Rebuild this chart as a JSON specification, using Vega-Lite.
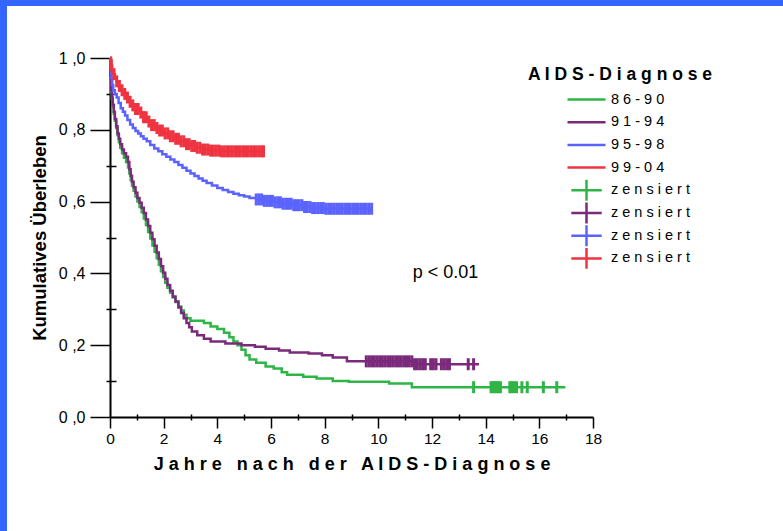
{
  "$schema": "https://vega.github.io/schema/vega-lite/v6.json",
  "background": "white",
  "padding": 0,
  "config": {"view": {"stroke": null}},
  "datasets": {
    "curves": [
      {"group":"86-90","t":0,"s":1.0},{"group":"86-90","t":0.02,"s":0.94},{"group":"86-90","t":0.04,"s":0.905},{"group":"86-90","t":0.07,"s":0.885},{"group":"86-90","t":0.1,"s":0.865},{"group":"86-90","t":0.14,"s":0.845},{"group":"86-90","t":0.18,"s":0.825},{"group":"86-90","t":0.23,"s":0.805},{"group":"86-90","t":0.28,"s":0.785},{"group":"86-90","t":0.33,"s":0.765},{"group":"86-90","t":0.38,"s":0.75},{"group":"86-90","t":0.45,"s":0.735},{"group":"86-90","t":0.52,"s":0.722},{"group":"86-90","t":0.6,"s":0.71},{"group":"86-90","t":0.67,"s":0.695},{"group":"86-90","t":0.72,"s":0.678},{"group":"86-90","t":0.77,"s":0.66},{"group":"86-90","t":0.82,"s":0.645},{"group":"86-90","t":0.88,"s":0.63},{"group":"86-90","t":0.95,"s":0.614},{"group":"86-90","t":1.02,"s":0.6},{"group":"86-90","t":1.1,"s":0.585},{"group":"86-90","t":1.18,"s":0.57},{"group":"86-90","t":1.26,"s":0.553},{"group":"86-90","t":1.34,"s":0.535},{"group":"86-90","t":1.42,"s":0.515},{"group":"86-90","t":1.5,"s":0.497},{"group":"86-90","t":1.58,"s":0.478},{"group":"86-90","t":1.66,"s":0.46},{"group":"86-90","t":1.74,"s":0.442},{"group":"86-90","t":1.82,"s":0.424},{"group":"86-90","t":1.9,"s":0.406},{"group":"86-90","t":1.98,"s":0.39},{"group":"86-90","t":2.06,"s":0.374},{"group":"86-90","t":2.14,"s":0.36},{"group":"86-90","t":2.24,"s":0.346},{"group":"86-90","t":2.34,"s":0.333},{"group":"86-90","t":2.44,"s":0.32},{"group":"86-90","t":2.55,"s":0.308},{"group":"86-90","t":2.65,"s":0.297},{"group":"86-90","t":2.75,"s":0.285},{"group":"86-90","t":2.85,"s":0.275},{"group":"86-90","t":3.0,"s":0.268},{"group":"86-90","t":3.5,"s":0.262},{"group":"86-90","t":3.75,"s":0.252},{"group":"86-90","t":4.0,"s":0.245},{"group":"86-90","t":4.25,"s":0.235},{"group":"86-90","t":4.45,"s":0.222},{"group":"86-90","t":4.6,"s":0.21},{"group":"86-90","t":4.75,"s":0.2},{"group":"86-90","t":4.9,"s":0.187},{"group":"86-90","t":5.05,"s":0.172},{"group":"86-90","t":5.2,"s":0.16},{"group":"86-90","t":5.45,"s":0.151},{"group":"86-90","t":5.8,"s":0.141},{"group":"86-90","t":6.1,"s":0.135},{"group":"86-90","t":6.4,"s":0.125},{"group":"86-90","t":6.6,"s":0.118},{"group":"86-90","t":7.2,"s":0.112},{"group":"86-90","t":7.7,"s":0.107},{"group":"86-90","t":8.3,"s":0.1},{"group":"86-90","t":8.9,"s":0.098},{"group":"86-90","t":10.4,"s":0.093},{"group":"86-90","t":11.25,"s":0.083},{"group":"86-90","t":16.97,"s":0.083},
      {"group":"91-94","t":0,"s":1.0},{"group":"91-94","t":0.02,"s":0.95},{"group":"91-94","t":0.04,"s":0.91},{"group":"91-94","t":0.07,"s":0.89},{"group":"91-94","t":0.1,"s":0.87},{"group":"91-94","t":0.14,"s":0.85},{"group":"91-94","t":0.18,"s":0.83},{"group":"91-94","t":0.23,"s":0.81},{"group":"91-94","t":0.28,"s":0.79},{"group":"91-94","t":0.33,"s":0.775},{"group":"91-94","t":0.38,"s":0.76},{"group":"91-94","t":0.45,"s":0.745},{"group":"91-94","t":0.52,"s":0.735},{"group":"91-94","t":0.6,"s":0.725},{"group":"91-94","t":0.67,"s":0.71},{"group":"91-94","t":0.72,"s":0.69},{"group":"91-94","t":0.77,"s":0.672},{"group":"91-94","t":0.82,"s":0.655},{"group":"91-94","t":0.88,"s":0.64},{"group":"91-94","t":0.95,"s":0.625},{"group":"91-94","t":1.02,"s":0.61},{"group":"91-94","t":1.1,"s":0.597},{"group":"91-94","t":1.18,"s":0.583},{"group":"91-94","t":1.26,"s":0.568},{"group":"91-94","t":1.34,"s":0.55},{"group":"91-94","t":1.42,"s":0.532},{"group":"91-94","t":1.5,"s":0.513},{"group":"91-94","t":1.58,"s":0.495},{"group":"91-94","t":1.66,"s":0.477},{"group":"91-94","t":1.74,"s":0.458},{"group":"91-94","t":1.82,"s":0.44},{"group":"91-94","t":1.9,"s":0.42},{"group":"91-94","t":1.98,"s":0.402},{"group":"91-94","t":2.06,"s":0.385},{"group":"91-94","t":2.14,"s":0.368},{"group":"91-94","t":2.24,"s":0.352},{"group":"91-94","t":2.34,"s":0.336},{"group":"91-94","t":2.44,"s":0.322},{"group":"91-94","t":2.55,"s":0.305},{"group":"91-94","t":2.65,"s":0.29},{"group":"91-94","t":2.75,"s":0.275},{"group":"91-94","t":2.85,"s":0.262},{"group":"91-94","t":2.95,"s":0.25},{"group":"91-94","t":3.05,"s":0.238},{"group":"91-94","t":3.25,"s":0.228},{"group":"91-94","t":3.5,"s":0.218},{"group":"91-94","t":3.75,"s":0.21},{"group":"91-94","t":4.3,"s":0.205},{"group":"91-94","t":4.9,"s":0.2},{"group":"91-94","t":5.4,"s":0.196},{"group":"91-94","t":5.8,"s":0.19},{"group":"91-94","t":6.3,"s":0.185},{"group":"91-94","t":6.7,"s":0.18},{"group":"91-94","t":7.4,"s":0.177},{"group":"91-94","t":7.9,"s":0.172},{"group":"91-94","t":8.3,"s":0.166},{"group":"91-94","t":8.83,"s":0.155},{"group":"91-94","t":11.3,"s":0.147},{"group":"91-94","t":13.75,"s":0.147},
      {"group":"95-98","t":0,"s":1.0},{"group":"95-98","t":0.02,"s":0.97},{"group":"95-98","t":0.05,"s":0.945},{"group":"95-98","t":0.08,"s":0.925},{"group":"95-98","t":0.12,"s":0.91},{"group":"95-98","t":0.18,"s":0.9},{"group":"95-98","t":0.25,"s":0.89},{"group":"95-98","t":0.32,"s":0.875},{"group":"95-98","t":0.4,"s":0.86},{"group":"95-98","t":0.48,"s":0.85},{"group":"95-98","t":0.56,"s":0.84},{"group":"95-98","t":0.65,"s":0.827},{"group":"95-98","t":0.75,"s":0.815},{"group":"95-98","t":0.85,"s":0.805},{"group":"95-98","t":0.95,"s":0.797},{"group":"95-98","t":1.05,"s":0.79},{"group":"95-98","t":1.15,"s":0.782},{"group":"95-98","t":1.25,"s":0.775},{"group":"95-98","t":1.37,"s":0.768},{"group":"95-98","t":1.5,"s":0.758},{"group":"95-98","t":1.65,"s":0.748},{"group":"95-98","t":1.8,"s":0.74},{"group":"95-98","t":1.95,"s":0.732},{"group":"95-98","t":2.1,"s":0.725},{"group":"95-98","t":2.25,"s":0.717},{"group":"95-98","t":2.4,"s":0.71},{"group":"95-98","t":2.55,"s":0.702},{"group":"95-98","t":2.7,"s":0.694},{"group":"95-98","t":2.85,"s":0.686},{"group":"95-98","t":3.0,"s":0.678},{"group":"95-98","t":3.15,"s":0.671},{"group":"95-98","t":3.3,"s":0.664},{"group":"95-98","t":3.45,"s":0.658},{"group":"95-98","t":3.6,"s":0.652},{"group":"95-98","t":3.8,"s":0.645},{"group":"95-98","t":4.0,"s":0.638},{"group":"95-98","t":4.2,"s":0.632},{"group":"95-98","t":4.4,"s":0.627},{"group":"95-98","t":4.6,"s":0.622},{"group":"95-98","t":4.8,"s":0.618},{"group":"95-98","t":5.0,"s":0.614},{"group":"95-98","t":5.2,"s":0.61},{"group":"95-98","t":5.45,"s":0.606},{"group":"95-98","t":5.75,"s":0.602},{"group":"95-98","t":6.1,"s":0.598},{"group":"95-98","t":6.4,"s":0.594},{"group":"95-98","t":6.8,"s":0.59},{"group":"95-98","t":7.2,"s":0.585},{"group":"95-98","t":7.5,"s":0.582},{"group":"95-98","t":8.0,"s":0.58},{"group":"95-98","t":9.8,"s":0.58},
      {"group":"99-04","t":0,"s":1.0},{"group":"99-04","t":0.04,"s":0.98},{"group":"99-04","t":0.08,"s":0.965},{"group":"99-04","t":0.12,"s":0.955},{"group":"99-04","t":0.18,"s":0.945},{"group":"99-04","t":0.25,"s":0.935},{"group":"99-04","t":0.33,"s":0.922},{"group":"99-04","t":0.42,"s":0.91},{"group":"99-04","t":0.5,"s":0.9},{"group":"99-04","t":0.6,"s":0.89},{"group":"99-04","t":0.7,"s":0.878},{"group":"99-04","t":0.8,"s":0.868},{"group":"99-04","t":0.95,"s":0.858},{"group":"99-04","t":1.1,"s":0.848},{"group":"99-04","t":1.25,"s":0.835},{"group":"99-04","t":1.4,"s":0.823},{"group":"99-04","t":1.55,"s":0.813},{"group":"99-04","t":1.7,"s":0.805},{"group":"99-04","t":1.85,"s":0.798},{"group":"99-04","t":2.0,"s":0.79},{"group":"99-04","t":2.2,"s":0.782},{"group":"99-04","t":2.4,"s":0.775},{"group":"99-04","t":2.6,"s":0.768},{"group":"99-04","t":2.8,"s":0.76},{"group":"99-04","t":3.0,"s":0.755},{"group":"99-04","t":3.2,"s":0.75},{"group":"99-04","t":3.4,"s":0.745},{"group":"99-04","t":3.7,"s":0.742},{"group":"99-04","t":4.1,"s":0.74},{"group":"99-04","t":5.77,"s":0.74}
    ],
    "censored": [
      {"group":"86-90","t":13.55,"s":0.083},{"group":"86-90","t":14.2,"s":0.083},{"group":"86-90","t":14.27,"s":0.083},{"group":"86-90","t":14.34,"s":0.083},{"group":"86-90","t":14.41,"s":0.083},{"group":"86-90","t":14.48,"s":0.083},{"group":"86-90","t":14.55,"s":0.083},{"group":"86-90","t":14.9,"s":0.083},{"group":"86-90","t":14.97,"s":0.083},{"group":"86-90","t":15.05,"s":0.083},{"group":"86-90","t":15.15,"s":0.083},{"group":"86-90","t":15.35,"s":0.083},{"group":"86-90","t":15.55,"s":0.083},{"group":"86-90","t":16.15,"s":0.083},{"group":"86-90","t":16.65,"s":0.083},
      {"group":"91-94","t":9.55,"s":0.155},{"group":"91-94","t":9.65,"s":0.155},{"group":"91-94","t":9.75,"s":0.155},{"group":"91-94","t":9.85,"s":0.155},{"group":"91-94","t":9.95,"s":0.155},{"group":"91-94","t":10.05,"s":0.155},{"group":"91-94","t":10.15,"s":0.155},{"group":"91-94","t":10.25,"s":0.155},{"group":"91-94","t":10.35,"s":0.155},{"group":"91-94","t":10.45,"s":0.155},{"group":"91-94","t":10.55,"s":0.155},{"group":"91-94","t":10.65,"s":0.155},{"group":"91-94","t":10.75,"s":0.155},{"group":"91-94","t":10.85,"s":0.155},{"group":"91-94","t":10.95,"s":0.155},{"group":"91-94","t":11.05,"s":0.155},{"group":"91-94","t":11.15,"s":0.155},{"group":"91-94","t":11.25,"s":0.155},{"group":"91-94","t":11.35,"s":0.147},{"group":"91-94","t":11.45,"s":0.147},{"group":"91-94","t":11.55,"s":0.147},{"group":"91-94","t":11.65,"s":0.147},{"group":"91-94","t":11.75,"s":0.147},{"group":"91-94","t":11.95,"s":0.147},{"group":"91-94","t":12.05,"s":0.147},{"group":"91-94","t":12.15,"s":0.147},{"group":"91-94","t":12.35,"s":0.147},{"group":"91-94","t":12.45,"s":0.147},{"group":"91-94","t":12.55,"s":0.147},{"group":"91-94","t":12.65,"s":0.147},{"group":"91-94","t":13.35,"s":0.147},{"group":"91-94","t":13.55,"s":0.147},
      {"group":"95-98","t":5.45,"s":0.606},{"group":"95-98","t":5.55,"s":0.606},{"group":"95-98","t":5.65,"s":0.606},{"group":"95-98","t":5.75,"s":0.602},{"group":"95-98","t":5.85,"s":0.602},{"group":"95-98","t":5.95,"s":0.602},{"group":"95-98","t":6.05,"s":0.602},{"group":"95-98","t":6.15,"s":0.598},{"group":"95-98","t":6.25,"s":0.598},{"group":"95-98","t":6.35,"s":0.598},{"group":"95-98","t":6.45,"s":0.594},{"group":"95-98","t":6.55,"s":0.594},{"group":"95-98","t":6.65,"s":0.594},{"group":"95-98","t":6.75,"s":0.594},{"group":"95-98","t":6.85,"s":0.59},{"group":"95-98","t":6.95,"s":0.59},{"group":"95-98","t":7.05,"s":0.59},{"group":"95-98","t":7.15,"s":0.59},{"group":"95-98","t":7.25,"s":0.585},{"group":"95-98","t":7.35,"s":0.585},{"group":"95-98","t":7.45,"s":0.585},{"group":"95-98","t":7.55,"s":0.582},{"group":"95-98","t":7.65,"s":0.582},{"group":"95-98","t":7.75,"s":0.582},{"group":"95-98","t":7.85,"s":0.582},{"group":"95-98","t":7.95,"s":0.582},{"group":"95-98","t":8.05,"s":0.58},{"group":"95-98","t":8.15,"s":0.58},{"group":"95-98","t":8.25,"s":0.58},{"group":"95-98","t":8.35,"s":0.58},{"group":"95-98","t":8.45,"s":0.58},{"group":"95-98","t":8.55,"s":0.58},{"group":"95-98","t":8.65,"s":0.58},{"group":"95-98","t":8.75,"s":0.58},{"group":"95-98","t":8.85,"s":0.58},{"group":"95-98","t":8.95,"s":0.58},{"group":"95-98","t":9.05,"s":0.58},{"group":"95-98","t":9.15,"s":0.58},{"group":"95-98","t":9.25,"s":0.58},{"group":"95-98","t":9.35,"s":0.58},{"group":"95-98","t":9.45,"s":0.58},{"group":"95-98","t":9.55,"s":0.58},{"group":"95-98","t":9.65,"s":0.58},{"group":"95-98","t":9.75,"s":0.58},
      {"group":"99-04","t":0.05,"s":0.98},{"group":"99-04","t":0.15,"s":0.955},{"group":"99-04","t":0.25,"s":0.935},{"group":"99-04","t":0.35,"s":0.922},{"group":"99-04","t":0.45,"s":0.91},{"group":"99-04","t":0.55,"s":0.9},{"group":"99-04","t":0.65,"s":0.89},{"group":"99-04","t":0.75,"s":0.878},{"group":"99-04","t":0.85,"s":0.868},{"group":"99-04","t":0.95,"s":0.858},{"group":"99-04","t":1.05,"s":0.858},{"group":"99-04","t":1.15,"s":0.848},{"group":"99-04","t":1.25,"s":0.835},{"group":"99-04","t":1.35,"s":0.835},{"group":"99-04","t":1.45,"s":0.823},{"group":"99-04","t":1.55,"s":0.813},{"group":"99-04","t":1.65,"s":0.813},{"group":"99-04","t":1.75,"s":0.805},{"group":"99-04","t":1.85,"s":0.798},{"group":"99-04","t":1.95,"s":0.798},{"group":"99-04","t":2.05,"s":0.79},{"group":"99-04","t":2.15,"s":0.79},{"group":"99-04","t":2.25,"s":0.782},{"group":"99-04","t":2.35,"s":0.782},{"group":"99-04","t":2.45,"s":0.775},{"group":"99-04","t":2.55,"s":0.775},{"group":"99-04","t":2.65,"s":0.768},{"group":"99-04","t":2.75,"s":0.768},{"group":"99-04","t":2.85,"s":0.76},{"group":"99-04","t":2.95,"s":0.76},{"group":"99-04","t":3.05,"s":0.755},{"group":"99-04","t":3.15,"s":0.755},{"group":"99-04","t":3.25,"s":0.75},{"group":"99-04","t":3.35,"s":0.75},{"group":"99-04","t":3.45,"s":0.745},{"group":"99-04","t":3.55,"s":0.745},{"group":"99-04","t":3.65,"s":0.745},{"group":"99-04","t":3.75,"s":0.742},{"group":"99-04","t":3.85,"s":0.742},{"group":"99-04","t":3.95,"s":0.742},{"group":"99-04","t":4.05,"s":0.742},{"group":"99-04","t":4.15,"s":0.74},{"group":"99-04","t":4.25,"s":0.74},{"group":"99-04","t":4.35,"s":0.74},{"group":"99-04","t":4.45,"s":0.74},{"group":"99-04","t":4.55,"s":0.74},{"group":"99-04","t":4.65,"s":0.74},{"group":"99-04","t":4.75,"s":0.74},{"group":"99-04","t":4.85,"s":0.74},{"group":"99-04","t":4.95,"s":0.74},{"group":"99-04","t":5.05,"s":0.74},{"group":"99-04","t":5.15,"s":0.74},{"group":"99-04","t":5.25,"s":0.74},{"group":"99-04","t":5.35,"s":0.74},{"group":"99-04","t":5.45,"s":0.74},{"group":"99-04","t":5.55,"s":0.74},{"group":"99-04","t":5.65,"s":0.74},{"group":"99-04","t":5.72,"s":0.74}
    ]
  },
  "spacing": 0,
  "hconcat": [
    {"width": 7, "height": 531, "data": {"values": []}, "mark": "point", "view": {"fill": "#3366ff", "stroke": null}},
    {
      "spacing": 44,
      "vconcat": [
        {"width": 776, "height": 6, "data": {"values": []}, "mark": "point", "view": {"fill": "#3366ff", "stroke": null}},
        {
          "spacing": 0,
          "hconcat": [
            {"width": 23, "height": 10, "data": {"values": []}, "mark": "point", "view": {"stroke": null}},
            {
              "width": 483,
              "height": 359,
              "layer": [
                {
                  "data": {"name": "curves"},
                  "mark": {"type": "line", "interpolate": "step-after", "strokeWidth": 2.5, "opacity": 1},
                  "encoding": {
                    "x": {"field": "t", "type": "quantitative", "scale": {"domain": [0, 18], "nice": false},
                      "axis": {"orient": "bottom", "values": [0,2,4,6,8,10,12,14,16,18], "tickSize": 11, "tickWidth": 1.5, "tickColor": "black", "domainColor": "black", "domainWidth": 2, "labelFont": "Liberation Sans", "labelFontSize": 15.5, "labelColor": "black", "labelPadding": 3, "labelFlush": false, "labelOverlap": false, "grid": false,
                        "title": "J a h r e \u00a0 n a c h \u00a0 d e r \u00a0 A I D S - D i a g n o s e", "titleFont": "Liberation Sans", "titleFontSize": 18, "titleFontWeight": "bold", "titleColor": "black", "titlePadding": 9}},
                    "y": {"field": "s", "type": "quantitative", "scale": {"domain": [0, 1], "nice": false},
                      "axis": {"orient": "left", "values": [0,0.2,0.4,0.6,0.8,1], "tickSize": 20, "tickWidth": 1.5, "tickColor": "black", "domainColor": "black", "domainWidth": 2, "labelFont": "Liberation Sans", "labelFontSize": 16, "labelColor": "black", "labelPadding": 5, "labelFlush": false, "labelExpr": "replace(format(datum.value, '.1f'), '.', ' ,')", "grid": false,
                        "title": "Kumulatives Überleben", "titleFont": "Liberation Sans", "titleFontSize": 18.5, "titleFontWeight": "bold", "titleColor": "black", "titlePadding": 9}},
                    "color": {"field": "group", "type": "nominal",
                      "scale": {"domain": ["86-90","91-94","95-98","99-04","zensiert 86-90","zensiert 91-94","zensiert 95-98","zensiert 99-04"],
                                "range": ["#2fb545","#7b2a7b","#5b63ff","#ef3340","#2fb545","#7b2a7b","#5b63ff","#ef3340"]},
                      "legend": {"title": "A I D S - D i a g n o s e", "orient": "none", "legendX": 528, "legendY": 66, "padding": 0,
                        "titleFont": "Liberation Sans", "titleFontSize": 17.5, "titleFontWeight": "bold", "titleColor": "black", "titlePadding": 5, "titleLimit": 400,
                        "labelFont": "Liberation Sans", "labelFontSize": 14.5, "labelColor": "black", "labelOffset": 4, "labelLimit": 300,
                        "labelExpr": "datum.label == '86-90' ? '8 6 - 9 0' : datum.label == '91-94' ? '9 1 - 9 4' : datum.label == '95-98' ? '9 5 - 9 8' : datum.label == '99-04' ? '9 9 - 0 4' : 'z e n s i e r t'",
                        "symbolSize": 1444, "symbolStrokeWidth": 2.5, "symbolOpacity": 1, "clipHeight": 22, "rowPadding": 0.7,
                        "encode": {
                          "symbols": {"update": {
                            "shape": {"signal": "indexof(datum.value, 'zensiert') === 0 ? 'M-0.8,0L0.8,0M0,-0.55L0,0.55' : 'M-1,0L1,0'"},
                            "fill": {"value": "transparent"},
                            "stroke": {"scale": "color", "field": "value"},
                            "strokeWidth": {"value": 2.5},
                            "opacity": {"value": 1}}},
                          "title": {"update": {"dx": {"value": -38}}}
                        }}}
                  }
                },
                {
                  "data": {"name": "censored"},
                  "transform": [{"calculate": "'zensiert ' + datum.group", "as": "key"}],
                  "mark": {"type": "tick", "orient": "vertical", "size": 12, "thickness": 3, "opacity": 1},
                  "encoding": {
                    "x": {"field": "t", "type": "quantitative", "axis": null},
                    "y": {"field": "s", "type": "quantitative", "axis": null},
                    "color": {"field": "key", "type": "nominal"}
                  }
                },
                {
                  "data": {"values": [{"label": "p < 0.01", "t": 12.5, "s": 0.4}]},
                  "mark": {"type": "text", "font": "Liberation Sans", "fontSize": 18, "color": "black", "align": "center", "baseline": "middle"},
                  "encoding": {
                    "x": {"field": "t", "type": "quantitative",
                      "axis": {"orient": "bottom", "values": [1,3,5,7,9,11,13,15,17], "tickSize": 6, "tickWidth": 1.5, "tickColor": "black", "offset": -3, "domain": false, "labels": false, "title": null, "grid": false}},
                    "y": {"field": "s", "type": "quantitative",
                      "axis": {"orient": "left", "values": [0.1,0.3,0.5,0.7,0.9], "tickSize": 10, "tickWidth": 1.5, "tickColor": "black", "offset": -6, "domain": false, "labels": false, "title": null, "grid": false}},
                    "text": {"field": "label"}
                  }
                }
              ],
              "resolve": {"axis": {"x": "independent", "y": "independent"}}
            }
          ]
        }
      ]
    }
  ]
}
